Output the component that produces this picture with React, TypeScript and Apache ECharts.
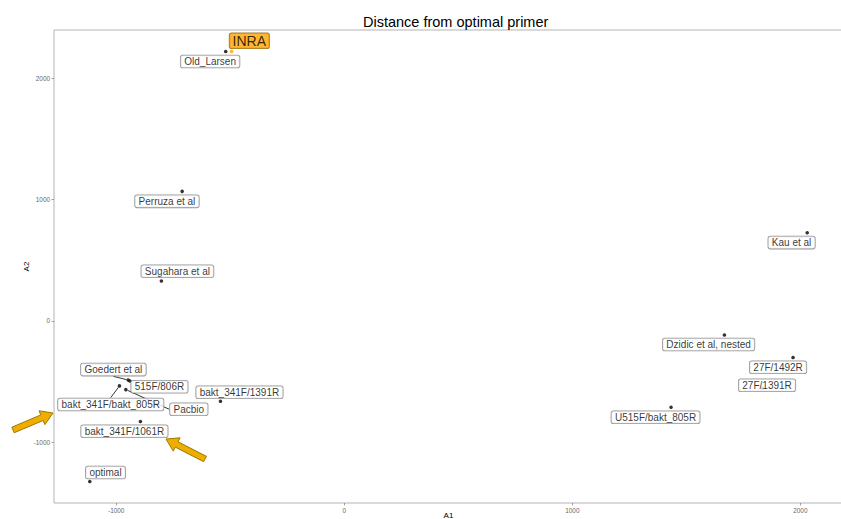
import React, { useEffect, useRef } from "react";
import * as echarts from "echarts";

// ---- data ----
const names = [
  "INRA",
  "Old_Larsen",
  "Perruza et al",
  "Sugahara et al",
  "Kau et al",
  "Dzidic et al, nested",
  "27F/1492R",
  "27F/1391R",
  "U515F/bakt_805R",
  "bakt_341F/1391R",
  "Goedert et al",
  "515F/806R",
  "bakt_341F/bakt_805R",
  "Pacbio",
  "bakt_341F/1061R",
  "optimal",
];
const a1 = [-494, -520, -711, -802, 2030, 1667, 1968, 1832, 1433, -543, -948, -940, -986, -958, -894, -1116];
const a2 = [2221, 2221, 1068, 329, 727, -116, -302, -555, -712, -662, -487, -495, -536, -566, -829, -1324];
const xTicks = [-1000, 0, 1000, 2000];
const yTicks = [-1000, 0, 1000, 2000];
const highlighted = ["INRA"];
const withSegment = ["Goedert et al", "bakt_341F/bakt_805R", "Pacbio"];

// ---- layout (pixel offsets of label centres from their points) ----
const labelOffsets: [number, number][] = [
  [17.7, -10.7],
  [-15.6, 10],
  [-15.2, 10],
  [16, -9.7],
  [-15.6, 9.9],
  [-15.8, 9.5],
  [-15, 9.7],
  [5, -3],
  [-15.5, 10],
  [19, -9],
  [-14.7, -10.4],
  [29.5, 5.8],
  [-8.7, 18.5],
  [63, 19.7],
  [-16, 9.7],
  [15.7, -9],
];

function arrowPoints(tail: [number, number], tip: [number, number]) {
  const dx = tip[0] - tail[0];
  const dy = tip[1] - tail[1];
  const len = Math.sqrt(dx * dx + dy * dy);
  const ux = dx / len, uy = dy / len;
  const nx = -uy, ny = ux;
  const sw = 3, hw = 7.5, hl = 12;
  const bx = tip[0] - ux * hl, by = tip[1] - uy * hl;
  return [
    [tail[0] + nx * sw, tail[1] + ny * sw],
    [bx + nx * sw, by + ny * sw],
    [bx + nx * hw, by + ny * hw],
    [tip[0], tip[1]],
    [bx - nx * hw, by - ny * hw],
    [bx - nx * sw, by - ny * sw],
    [tail[0] - nx * sw, tail[1] - ny * sw],
  ];
}

export default function App() {
  const ref = useRef<HTMLDivElement>(null);
  useEffect(() => {
    if (!ref.current) return;
    const chart = echarts.init(ref.current, undefined, { renderer: "svg" });
    const font = "Liberation Sans, Arial, sans-serif";
    const data = names.map((n, i) => {
      const hi = highlighted.includes(n);
      const item: any = {
        name: n,
        value: [a1[i], a2[i]],
        itemStyle: { color: hi ? "#FFA500" : "#000000" },
      };
      if (hi) {
        item.label = {
          fontSize: 14,
          lineHeight: 14,
          padding: [1, 3, 0, 3],
          backgroundColor: "#FFA500",
          borderColor: "#8a5a00",
        };
      }
      if (withSegment.includes(n)) {
        item.labelLine = { show: true };
      }
      return item;
    });
    const tickFmt = (v: number) => String(Math.round(v));
    chart.setOption({
      animation: false,
      title: {
        text: "Distance from optimal primer",
        left: 358,
        top: 9,
        textStyle: { fontFamily: font, fontSize: 14.5, fontWeight: "normal", color: "#000" },
      },
      grid: {
        left: 54,
        right: -2,
        top: 30,
        bottom: 16,
        outerBoundsMode: "none",
        containLabel: false,
        show: true,
        borderColor: "#b3b3b3",
        borderWidth: 1,
        backgroundColor: "#fff",
      },
      xAxis: {
        type: "value",
        min: -1273,
        max: 2187,
        name: "A1",
        nameLocation: "middle",
        nameGap: 8,
        nameMoveOverlap: false,
        nameTextStyle: { fontFamily: font, fontSize: 8, color: "#000" },
        axisLine: { show: false, onZero: false },
        splitLine: { show: false },
        axisTick: { show: true, length: 2.5, customValues: xTicks, lineStyle: { color: "#666", width: 0.6 } },
        axisLabel: { customValues: xTicks, formatter: tickFmt, fontFamily: font, fontSize: 6.4, color: "#666", margin: 4 },
      },
      yAxis: {
        type: "value",
        min: -1501,
        max: 2398,
        name: "A2",
        nameLocation: "middle",
        nameGap: 24,
        nameMoveOverlap: false,
        nameTextStyle: { fontFamily: font, fontSize: 8, color: "#000" },
        axisLine: { show: false, onZero: false },
        splitLine: { show: false },
        axisTick: { show: true, length: 2.5, customValues: yTicks, lineStyle: { color: "#666", width: 0.6 } },
        axisLabel: { customValues: yTicks, formatter: tickFmt, fontFamily: font, fontSize: 6.4, color: "#666", margin: 4 },
      },
      series: [
        {
          type: "scatter",
          symbolSize: 3.6,
          data,
          label: {
            show: true,
            position: "inside",
            formatter: "{b}",
            fontFamily: font,
            fontSize: 10,
            lineHeight: 10,
            color: "#000",
            backgroundColor: "#fff",
            borderColor: "#7a7a7a",
            borderWidth: 0.8,
            borderRadius: 2,
            padding: [1, 3.5],
          },
          labelLine: { show: false, lineStyle: { color: "#000", width: 0.8 } },
          labelLayout: (p: any) => ({
            dx: labelOffsets[p.dataIndex][0],
            dy: labelOffsets[p.dataIndex][1],
          }),
          emphasis: { disabled: true },
        },
      ],
      graphic: [
        {
          type: "polygon",
          shape: { points: arrowPoints([13, 430], [53, 413]) },
          style: { fill: "#EDAE00", stroke: "#A27700", lineWidth: 1 },
          z: 100,
        },
        {
          type: "polygon",
          shape: { points: arrowPoints([205, 459], [166, 439]) },
          style: { fill: "#EDAE00", stroke: "#A27700", lineWidth: 1 },
          z: 100,
        },
      ],
    });
    return () => chart.dispose();
  }, []);
  return (
    <div
      ref={ref}
      style={{ position: "fixed", left: 0, top: 0, width: 841, height: 519, background: "#fff" }}
    />
  );
}
